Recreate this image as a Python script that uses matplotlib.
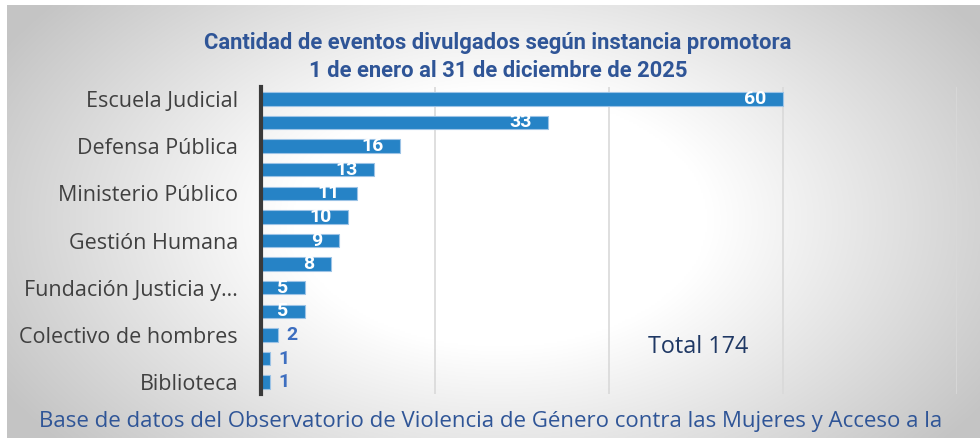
import numpy as np
import matplotlib
matplotlib.use("Agg")
import matplotlib.pyplot as plt

categories = ["Escuela Judicial", "", "Defensa Pública", "", "Ministerio Público", "",
              "Gestión Humana", "", "Fundación Justicia y…", "", "Colectivo de hombres", "",
              "Biblioteca"]
values = [60, 33, 16, 13, 11, 10, 9, 8, 5, 5, 2, 1, 1]
total_label = "Total 174"
title = "Cantidad de eventos divulgados según instancia promotora\n1 de enero al 31 de diciembre de 2025"
footer = "Base de datos del Observatorio de Violencia de Género contra las Mujeres y Acceso a la"

W, H = 980, 438
fig = plt.figure(figsize=(W / 100, H / 100), dpi=100)
fig.patch.set_facecolor("white")

# background radial gradient (white centre, grey edges)
bg = fig.add_axes([7 / W, 0, 1 - 7 / W, 1 - 5 / H], zorder=-5)
nx, ny = 500, 220
xx, yy = np.meshgrid(np.linspace(7, W, nx), np.linspace(5, H, ny))
cx, cy = 500, 220
d = np.sqrt(((xx - cx) / 520) ** 2 + ((yy - cy) / 320) ** 2)
t = np.clip((d - 0.4) / 0.7, 0, 1)
v = 1.0 - 0.23 * t
rgb = np.dstack([v, v, v])
bg.imshow(rgb, extent=[0, 1, 0, 1], aspect="auto", origin="upper", interpolation="bilinear")
bg.set_xlim(0, 1)
bg.set_ylim(0, 1)
bg.axis("off")

ax = fig.add_axes([261 / W, 1 - 394 / H, (957 - 261) / W, (394 - 87) / H])
ax.patch.set_alpha(0)
y = np.arange(len(values))
ax.barh(y, values, height=0.57, color="#2683C6", edgecolor="#9cc3e6", linewidth=0.8, zorder=3)
ax.set_ylim(len(values) - 0.5, -0.5)
ax.set_xlim(0, 80)
ax.set_xticks([20, 40, 60, 80])
ax.grid(axis="x", color="#d9d9d9", linewidth=1.2, zorder=0)
ax.tick_params(axis="x", length=0, labelbottom=False)
ax.tick_params(axis="y", length=0, pad=16.5)
ax.set_yticks(y)
ax.set_yticklabels(categories, fontsize=15.5, color="#404040", family="Open Sans")
for s in ["top", "right", "bottom"]:
    ax.spines[s].set_visible(False)
ax.spines["left"].set_color("#3a3a3a")
ax.spines["left"].set_linewidth(3)
ax.spines["left"].set_zorder(5)

for yi, v_ in zip(y, values):
    if v_ >= 5:
        ax.annotate(str(v_), (v_, yi), xytext=(-12, 0), textcoords="offset points",
                    ha="right", va="center", color="white",
                    fontsize=14, fontweight="bold", family="Roboto", zorder=4)
    else:
        ax.annotate(str(v_), (v_, yi), xytext=(6, 0), textcoords="offset points",
                    ha="left", va="center", color="#3e6fc0",
                    fontsize=14, fontweight="bold", family="Roboto", zorder=4)

fig.text(498 / W, 1 - 57 / H, title, ha="center", va="center", fontsize=15.8,
         fontweight="bold", color="#2F5597", family="Roboto", linespacing=1.3)
fig.text(698 / W, 1 - 347 / H, total_label, ha="center", va="center", fontsize=16.8,
         color="#1F3864", family="Open Sans")
fig.text(491 / W, 1 - 422 / H, footer, ha="center", va="center", fontsize=16,
         color="#2F5597", family="Open Sans")

fig.savefig("out.png", dpi=100, facecolor="white")
